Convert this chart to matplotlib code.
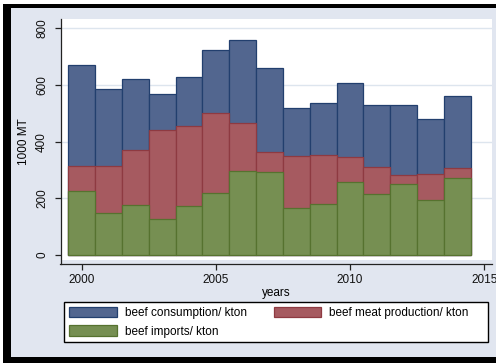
import numpy as np
import matplotlib
matplotlib.use("Agg")
import matplotlib.pyplot as plt
from matplotlib.patches import Rectangle, Patch

plt.rcParams['font.family'] = ['Liberation Sans', 'DejaVu Sans']
plt.rcParams['font.size'] = 8.5

# beef balance, thousand tonnes
years = [2000, 2001, 2002, 2003, 2004, 2005, 2006, 2007,
         2008, 2009, 2010, 2011, 2012, 2013, 2014]
consumption = [670, 587, 621, 567, 628, 725, 759, 659,
               518, 536, 607, 528, 529, 480, 560]
production = [315, 315, 372, 441, 456, 502, 464, 365,
              351, 354, 346, 312, 281, 286, 307]
imports = [227, 147, 178, 128, 174, 220, 295, 292,
           167, 181, 259, 216, 251, 193, 271]

labels = ['beef consumption/ kton', 'beef meat production/ kton', 'beef imports/ kton']
fills = ['#52668F', '#A65A60', '#768F52']
edges = ['#223F6E', '#8E3A41', '#56722F']

yticks = [0, 200, 400, 600, 800]
xticks = [2000, 2005, 2010, 2015]

W, H = 496, 363
fig = plt.figure(figsize=(W / 100, H / 100), dpi=100)
fig.patch.set_facecolor('white')

# black frame with the light graph region inside
fig.add_artist(Rectangle((3 / W, 0), 1, (H - 4) / H, transform=fig.transFigure,
                         facecolor='black', edgecolor='none', zorder=-10))
fig.add_artist(Rectangle((11 / W, 6 / H), 1, (357 - 8) / H, transform=fig.transFigure,
                         facecolor='#E1E6F0', edgecolor='none', zorder=-9))

ax = fig.add_axes([60.5 / W, 1 - 264 / H, (492 - 60.5) / W, (264 - 19) / H])
ax.set_facecolor('none')
ax.add_patch(Rectangle((0.004, 0.016), 1, 1, transform=ax.transAxes,
                       facecolor='white', edgecolor='none', zorder=0))

for v in yticks[1:]:
    ax.axhline(v, color='#DDE5EE', lw=1.0, zorder=0.5)

# overlaid bars: consumption behind, then production, then imports
for vals, fc, ec in zip([consumption, production, imports], fills, edges):
    ax.bar(years, vals, width=1.0, color=fc, edgecolor=ec, linewidth=0.9, zorder=2)

ax.set_xlim(1999.21, 2015.29)
ax.set_ylim(-31.8, 832.7)
ax.set_xticks(xticks)
ax.set_yticks(yticks)
ax.set_yticklabels([str(v) for v in yticks], rotation=90, va='center')

for side in ['top', 'right']:
    ax.spines[side].set_visible(False)
for side in ['left', 'bottom']:
    ax.spines[side].set_color('#222222')
    ax.spines[side].set_linewidth(0.9)
ax.tick_params(axis='both', direction='out', length=4, width=0.9,
               color='#222222', labelcolor='#111111')
ax.tick_params(axis='y', pad=5)
ax.tick_params(axis='x', pad=3)

ax.set_xlabel('years', labelpad=1)
ax.set_ylabel('1000 MT', labelpad=4)

# legend box drawn separately so it can be wider than its entries
fig.add_artist(Rectangle((64 / W, 1 - 342 / H), (488 - 64) / W, 40 / H,
                         transform=fig.transFigure, facecolor='white',
                         edgecolor='black', linewidth=1.0, zorder=5))

# legend fills column by column, so order gives consumption | production on row one
handles = [Patch(facecolor=fc, edgecolor=ec, linewidth=0.9) for fc, ec in zip(fills, edges)]
order = [0, 2, 1]
leg = fig.legend([handles[i] for i in order], [labels[i] for i in order], loc='upper left',
                 bbox_to_anchor=(64 / W, 1 - 302 / H), ncol=2, borderaxespad=0,
                 frameon=False, handlelength=4.0, handleheight=0.95, handletextpad=0.7,
                 labelspacing=0.5, borderpad=0.45, columnspacing=2.3)
leg.set_zorder(6)

fig.savefig('out.png', dpi=100, facecolor=fig.get_facecolor())
